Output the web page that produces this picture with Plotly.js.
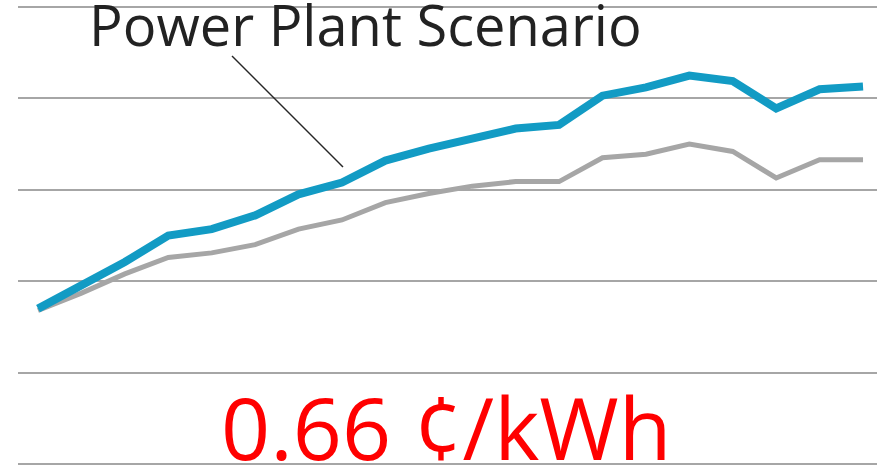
<!DOCTYPE html>
<html><head><meta charset="utf-8">
<script src="https://cdn.plot.ly/plotly-3.0.1.min.js"></script>
<style>html,body{margin:0;padding:0;background:#fff}#chart{width:877px;height:470px}</style>
</head><body><div id="chart"></div>
<script>
var years = ["1","2","3","4","5","6","7","8","9","10","11","12","13","14","15","16","17","18","19","20"];
var powerPlant = [1.70,1.95,2.21,2.50,2.57,2.72,2.95,3.08,3.32,3.45,3.57,3.67,3.71,4.03,4.12,4.25,4.19,3.89,4.10,4.13];
var baseline = [1.68,1.87,2.08,2.26,2.31,2.40,2.57,2.67,2.86,2.96,3.04,3.09,3.09,3.35,3.39,3.50,3.42,3.13,3.33,3.33];
var idx = years.map(function(_, i){ return i; });

var data = [
  {x: idx, y: baseline, type: 'scatter', mode: 'lines', name: 'Baseline',
   line: {color: '#a6a6a6', width: 5}, hoverinfo: 'skip'},
  {x: idx, y: powerPlant, type: 'scatter', mode: 'lines', name: 'Power Plant Scenario',
   line: {color: '#129bc4', width: 8}, hoverinfo: 'skip'}
];
var layout = {
  width: 877, height: 470,
  margin: {l: 18, r: 0, t: 2, b: 3, pad: 0},
  paper_bgcolor: '#fff', plot_bgcolor: '#fff',
  showlegend: false,
  xaxis: {range: [-0.4606, 19.322], showgrid: false, zeroline: false, showticklabels: false, ticks: '', showline: false},
  yaxis: {range: [-0.033, 5.055], dtick: 1, tick0: 0, showgrid: true, gridcolor: '#a6a6a6', gridwidth: 2,
          zeroline: false, showticklabels: false, ticks: '', showline: false},
  shapes: [
    {type: 'line', xref: 'paper', yref: 'paper',
     x0: (232-18)/859, y0: 1-(56-2)/465, x1: (343-18)/859, y1: 1-(167-2)/465,
     line: {color: '#262626', width: 1.5}}
  ],
  annotations: [
    {text: 'Power Plant Scenario', xref: 'paper', yref: 'paper', x: (87-18)/859, y: 1-(-16-2)/465,
     xanchor: 'left', yanchor: 'top', showarrow: false,
     font: {family: 'Open Sans, sans-serif', size: 56, color: '#222222'}},
    {text: '0.66 ¢/kWh', xref: 'paper', yref: 'paper', x: (446-18)/859, y: 1-(487-2)/465,
     xanchor: 'center', yanchor: 'bottom', showarrow: false,
     font: {family: 'Open Sans, sans-serif', size: 86, color: '#ff0000'}}
  ]
};
Plotly.newPlot('chart', data, layout, {staticPlot: true, displayModeBar: false});
</script></body></html>
